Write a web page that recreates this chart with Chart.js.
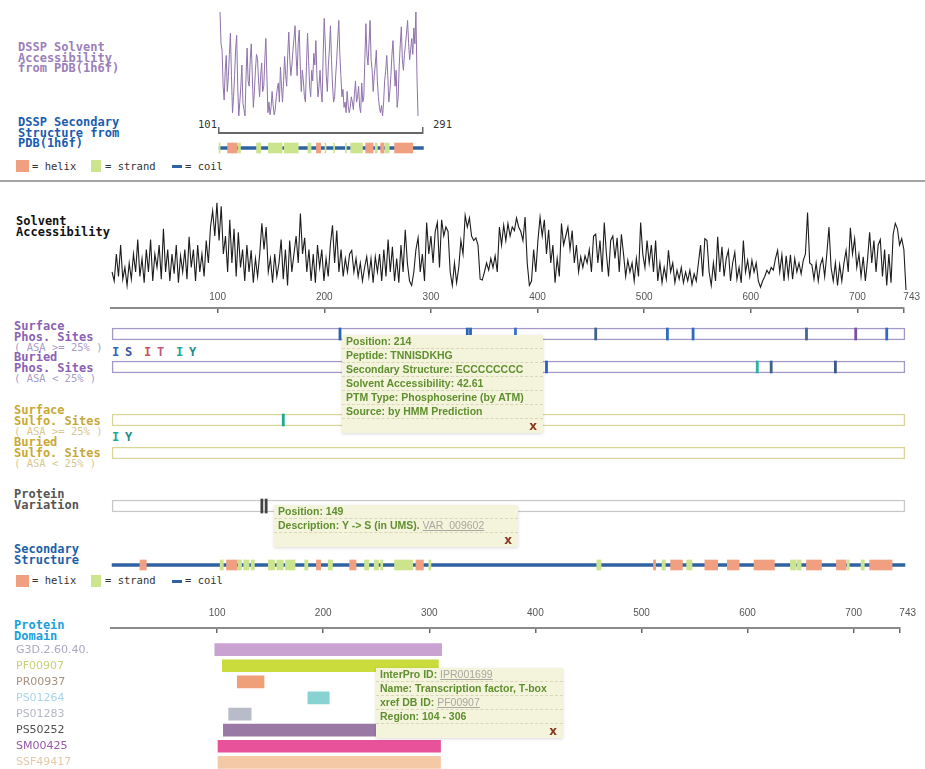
<!DOCTYPE html>
<html><head><meta charset="utf-8">
<script src="https://cdn.jsdelivr.net/npm/chart.js@4.4.1/dist/chart.umd.min.js"></script>
<style>
html,body{margin:0;padding:0;background:#fff;width:925px;height:769px;overflow:hidden;position:relative}
canvas{position:absolute;left:0}
.lbl{position:absolute;left:14px;font:bold 12px/10.5px "DejaVu Sans Mono",monospace;white-space:pre}
.asa{font-weight:normal;font-size:10.5px}
.leg{position:absolute;font:10.5px "DejaVu Sans Mono",monospace;color:#333;white-space:pre}
.sw{position:absolute}
.sym{position:absolute;font:bold 12px "DejaVu Sans Mono",monospace}
.num{position:absolute;font:10.5px "DejaVu Sans Mono",monospace;color:#333}
.sep{position:absolute;left:0;top:180px;width:925px;height:2px;background:#a3a3a3}
.tip{position:absolute;z-index:10;background:#f4f3dc;box-shadow:0 1px 3px rgba(0,0,0,.15);font:bold 10.5px "Liberation Sans",Arial,sans-serif;color:#5f8f2f}
.tl{height:13px;line-height:13px;border-bottom:1px dashed #d9d7b8;padding-left:4px;white-space:nowrap}
.tx{height:14px;line-height:14px;text-align:right;padding-right:6px;color:#8a3a20;font:bold 12px "DejaVu Sans",sans-serif}
.lk{color:#a8a8a0;font-weight:normal;text-decoration:underline}
</style></head><body>
<div class="sep"></div>

<div class="lbl" style="top:42px;left:18px;color:#9c80ba">DSSP Solvent
Accessibility
from PDB(1h6f)</div>
<div class="lbl" style="top:117px;left:18px;color:#1a5cb0">DSSP Secondary
Structure from
PDB(1h6f)</div>
<div class="num" style="left:198px;top:118px">101</div>
<div class="num" style="left:433px;top:118px">291</div>

<div class="sw" style="left:16px;top:160px;width:13px;height:12px;background:#f0a080"></div>
<div class="leg" style="left:32px;top:160px">= helix</div>
<div class="sw" style="left:91px;top:160px;width:10px;height:12px;background:#cde48f"></div>
<div class="leg" style="left:105px;top:160px">= strand</div>
<div class="sw" style="left:172px;top:165px;width:10px;height:3px;background:#2f62a0"></div>
<div class="leg" style="left:185px;top:160px">= coil</div>

<div class="lbl" style="top:216px;left:16px;color:#111">Solvent
Accessibility</div>

<div class="lbl" style="top:321px;color:#8a62b4">Surface
Phos. Sites
<span class="asa" style="color:#a99cc8">( ASA &gt;= 25% )</span></div>
<div class="lbl" style="top:352px;color:#8a62b4">Buried
Phos. Sites
<span class="asa" style="color:#a99cc8">( ASA &lt; 25% )</span></div>
<span class="sym" style="left:112px;top:345px;color:#2a68c0">I</span>
<span class="sym" style="left:125px;top:345px;color:#3a52a0">S</span>
<span class="sym" style="left:144px;top:345px;color:#d05060">I</span>
<span class="sym" style="left:157px;top:345px;color:#c05878">T</span>
<span class="sym" style="left:176px;top:345px;color:#20a8a0">I</span>
<span class="sym" style="left:189px;top:345px;color:#209088">Y</span>

<div class="lbl" style="top:405px;color:#c8a838">Surface
Sulfo. Sites
<span class="asa" style="color:#d6c88e">( ASA &gt;= 25% )</span></div>
<div class="lbl" style="top:437px;color:#c8a838">Buried
Sulfo. Sites
<span class="asa" style="color:#d6c88e">( ASA &lt; 25% )</span></div>
<span class="sym" style="left:112px;top:430px;color:#20a8a0">I</span>
<span class="sym" style="left:125px;top:430px;color:#209088">Y</span>

<div class="lbl" style="top:489px;color:#555">Protein
Variation</div>
<div class="lbl" style="top:544px;color:#1a5fa8">Secondary
Structure</div>
<div class="sw" style="left:16px;top:575px;width:13px;height:12px;background:#f0a080"></div>
<div class="leg" style="left:32px;top:574px">= helix</div>
<div class="sw" style="left:91px;top:575px;width:10px;height:12px;background:#cde48f"></div>
<div class="leg" style="left:105px;top:574px">= strand</div>
<div class="sw" style="left:172px;top:580px;width:10px;height:3px;background:#2f62a0"></div>
<div class="leg" style="left:185px;top:574px">= coil</div>

<div class="lbl" style="top:620px;color:#1ba0dc">Protein
Domain</div>

<div class="tip" style="left:342px;top:335px;width:201px">
<div class="tl">Position: 214</div>
<div class="tl">Peptide: TNNISDKHG</div>
<div class="tl">Secondary Structure: ECCCCCCCC</div>
<div class="tl">Solvent Accessibility: 42.61</div>
<div class="tl">PTM Type: Phosphoserine (by ATM)</div>
<div class="tl">Source: by HMM Prediction</div>
<div class="tx">x</div>
</div>
<div class="tip" style="left:274px;top:505px;width:244px">
<div class="tl">Position: 149</div>
<div class="tl">Description: Y -&gt; S (in UMS). <span class="lk">VAR_009602</span></div>
<div class="tx">x</div>
</div>
<div class="tip" style="left:376px;top:668px;width:187px">
<div class="tl">InterPro ID: <span class="lk">IPR001699</span></div>
<div class="tl">Name: Transcription factor, T-box</div>
<div class="tl">xref DB ID: <span class="lk">PF00907</span></div>
<div class="tl">Region: 104 - 306</div>
<div class="tx">x</div>
</div>

<script>
// ---------------- DATA ----------------
const seqLength = 743;
const axisTicks = [100, 200, 300, 400, 500, 600, 700, 743];

// Solvent accessibility (whole protein), residues 1,3,5,...,743
const accStart = 1, accStep = 2;
const accValues = [
  20,10,40,15,50,12,25,5,30,12,40,20,56,15,35,8,45,20,56,10,40,25,50,12,68,
  20,45,10,40,18,50,8,38,20,45,12,59,25,45,10,50,20,40,15,55,30,70,88,60,97,
  55,93,40,60,20,78,30,68,15,64,25,45,10,50,20,44,8,35,15,40,74,45,70,20,35,
  8,40,15,30,56,12,45,5,55,20,40,60,30,85,40,58,20,45,10,40,8,50,25,45,10,
  35,15,50,72,30,66,20,45,15,35,20,40,44,20,35,15,30,10,25,37,15,35,8,37,20,
  40,10,45,15,56,20,48,10,35,8,50,20,67,30,10,5,20,45,58,20,40,10,75,40,60,
  30,65,75,25,78,60,70,65,20,5,30,8,25,55,40,83,70,80,60,55,58,50,12,11,20,
  30,22,35,25,38,20,70,50,72,55,74,60,70,66,80,70,65,55,81,30,5,10,45,20,55,
  81,60,78,40,67,30,50,8,35,15,74,50,60,70,45,66,30,50,20,37,25,38,30,45,20,
  60,62,30,55,20,75,40,15,55,60,35,58,20,62,40,15,33,20,30,10,35,15,75,40,25,
  55,30,50,20,55,10,30,8,25,12,44,20,30,8,22,12,25,8,20,10,22,6,18,10,30,
  50,15,57,55,20,5,30,10,59,20,48,15,35,44,10,30,42,12,25,8,55,20,33,15,33,
  20,30,10,3,10,15,22,18,25,22,35,44,20,39,10,38,15,39,12,35,20,30,18,33,40,
  86,30,28,12,30,10,28,35,15,40,70,25,10,30,5,28,10,30,44,20,69,40,57,25,40,
  15,37,10,33,64,30,55,20,50,56,15,45,5,40,8,62,74,68,50,57,45,0
];

// DSSP solvent accessibility from PDB 1h6f, residues 101..291
const dsspRange = [101, 291];
const dsspStart = 101, dsspStep = 1;
const dsspValues = [
  100,70,64,30,17,45,59,25,39,60,80,40,5,20,40,65,78,30,2,15,
  30,50,14,8,2,40,66,35,30,55,70,40,10,25,45,60,56,35,20,40,
  52,25,30,55,75,40,5,15,3,10,25,12,3,8,20,28,33,15,48,30,
  15,35,58,40,30,60,81,55,40,50,64,75,87,60,40,70,83,50,25,45,
  35,20,15,50,80,55,30,20,45,35,61,50,73,40,20,30,45,25,15,60,
  94,70,40,25,50,65,87,55,30,15,20,40,55,75,92,60,40,20,27,10,
  15,5,25,12,5,10,20,15,8,22,35,15,20,30,10,5,33,15,20,55,
  89,60,50,70,92,55,45,25,40,50,64,35,20,10,5,12,2,15,35,45,
  59,40,15,25,40,60,73,50,30,45,10,20,50,70,86,55,45,60,70,80,
  92,70,55,65,75,60,85,70,100,40,2
];

// DSSP secondary structure (residue ranges)
const dsspHelix = [[109,118],[192,196],[238,245],[252,255],[265,282]];
const dsspStrand = [[101,102],[119,121],[136,140],[147,160],[162,175],[184,187],[200,201],[208,209],[219,220],[224,235],[247,249],[256,260]];

// Predicted secondary structure (residue ranges)
const ssHelix = [[27,33],[108,118],[192,196],[223,229],[285,292],[507,509],[523,534],[555,567],[576,587],[601,620],[650,664],[678,687],[709,730]];
const ssStrand = [[102,105],[119,122],[124,129],[131,134],[147,153],[155,161],[163,172],[181,184],[203,207],[237,241],[246,250],[252,254],[265,282],[297,299],[454,458],[515,518],[538,543],[635,640],[641,645],[688,690],[701,704]];

// PTM sites
const surfPhosSites = [214,333,336,378,453,520,544,650,696,725];
const surfPhosColors = ['#2b64b4','#2b64b4','#2b64b4','#3a70c8','#3d6486','#2e6cc0','#2e6cc0','#46688a','#7a50a0','#2e6cc0'];
const buriedPhosSites = [407,604,617,677];
const buriedPhosColors = ['#2e62b8','#2ab0a0','#3a6488','#3a5a86'];
const surfSulfoSites = [161];
const surfSulfoColors = ['#22a890'];
const buriedSulfoSites = [];
const variationSites = [141,145];

// Protein domains
const domainNames = ['G3D.2.60.40.','PF00907','PR00937','PS01264','PS01283','PS50252','SM00425','SSF49417'];
const domainRanges = [[97,309],[104,306],[118,143],[184,204],[110,131],[105,306],[100,308],[100,308]];
const domainColors = ['#c9a2d2','#c9dc3c','#f0a078','#88d2d4','#b8bcc8','#9a7aa4','#e8529a','#f4caa6'];
const domainLabelColors = ['#a8a8c4','#c8d078','#a89080','#a8d4e8','#b4b8c0','#505050','#9858a8','#e4c8a8'];

// ---------------- LAYOUT / DRAWING ----------------
const W = 925, PLOT_L = 111, PLOT_R = 906;
const PAD = {left: PLOT_L, right: W - PLOT_R, top: 0, bottom: 0};
const pxOf = r => PLOT_L + r * (PLOT_R - PLOT_L) / seqLength;

Chart.defaults.font.family = 'DejaVu Sans';
const base = {responsive:false, animation:false, events:[], plugins:{legend:{display:false}, tooltip:{enabled:false}}};

function addCanvas(top, height) {
  const c = document.createElement('canvas');
  c.width = W; c.height = height;
  c.style.top = top + 'px'; c.style.width = W + 'px'; c.style.height = height + 'px';
  document.body.appendChild(c);
  return c;
}

function lineChart(top, height, start, step, vals, color, width, xmin, xmax, pad) {
  new Chart(addCanvas(top, height), {
    type: 'line',
    data: {datasets: [{data: vals.map((v, i) => ({x: start + i * step, y: v})),
      borderColor: color, borderWidth: width, pointRadius: 0, tension: 0, clip: false}]},
    options: {...base, layout: {padding: pad},
      scales: {x: {type: 'linear', min: xmin, max: xmax, display: false},
               y: {min: 0, max: 100, display: false}}}
  });
}

function rangeSet(range, color, thick, extra) {
  return Object.assign({data: [range], backgroundColor: color, barThickness: thick,
    grouped: false, borderSkipped: false, borderWidth: 0}, extra || {});
}

function barTrack(top, height, datasets) {
  new Chart(addCanvas(top, height), {
    type: 'bar',
    data: {labels: ['row'], datasets},
    options: {...base, indexAxis: 'y', layout: {padding: PAD},
      scales: {x: {type: 'linear', min: 0, max: seqLength, display: false},
               y: {display: false}}}
  });
}

function ssTrack(top, helix, strand, coil) {
  const ds = [];
  helix.forEach(r => ds.push(rangeSet(r, '#f0a080', 10)));
  strand.forEach(r => ds.push(rangeSet(r, '#cde48f', 10)));
  ds.push(rangeSet(coil, '#2f62a0', 3));
  barTrack(top, 12, ds);
}

function siteTrack(top, sites, colors, boxColor, tickThick) {
  const ds = [];
  sites.forEach((s, i) => ds.push(rangeSet([s - 1, s + 1], colors[i] || colors[0], tickThick)));
  ds.push(rangeSet([1, seqLength - 1], '#ffffff', 12, {borderColor: boxColor, borderWidth: 1.5}));
  barTrack(top, 16, ds);
}

function axisChart(lineY, labelPad) {
  const AH = 24, TL = 5;
  new Chart(addCanvas(lineY - AH, AH + TL), {
    type: 'line',
    data: {datasets: [{data: []}]},
    options: {...base, layout: {padding: PAD},
      scales: {
        x: {type: 'linear', position: 'top', min: 0, max: seqLength,
          afterBuildTicks: s => { s.ticks = axisTicks.map(v => ({value: v})); },
          afterFit: s => { s.height = AH; },
          border: {display: true, color: '#8a8a8a', width: 2},
          grid: {drawOnChartArea: true, drawTicks: false, color: '#6a6a6a', lineWidth: 1.5},
          ticks: {padding: labelPad, color: '#555', autoSkip: false, maxRotation: 0,
            font: {size: 10, family: 'Liberation Sans'},
            callback: v => v === seqLength ? '\u2007\u2007\u2007' + v : String(v)}},
        y: {display: false}
      }}
  });
}

// DSSP accessibility plot
lineChart(12, 106, dsspStart, dsspStep, dsspValues, '#8e72aa', 1, dsspRange[0], dsspRange[1],
  {left: 220, right: W - 418, top: 0, bottom: 0});

// DSSP bracket
new Chart(addCanvas(127, 8), {
  type: 'line', data: {datasets: [{data: []}]},
  options: {...base, layout: {padding: {left: pxOf(dsspRange[0]), right: W - pxOf(dsspRange[1]), top: 0, bottom: 0}},
    scales: {x: {type: 'linear', position: 'bottom', min: dsspRange[0], max: dsspRange[1],
      afterBuildTicks: s => { s.ticks = dsspRange.map(v => ({value: v})); },
      afterFit: s => { s.height = 2; },
      ticks: {display: false},
      grid: {drawTicks: false, color: '#666', lineWidth: 1.5},
      border: {color: '#666', width: 2}},
      y: {display: false}}}
});

// DSSP secondary structure
ssTrack(142, dsspHelix, dsspStrand, [dsspRange[0], dsspRange[1] + 1]);

// Main solvent accessibility
lineChart(200, 90, accStart, accStep, accValues, '#1c1c1c', 1.1, 0, seqLength, PAD);
axisChart(308, 5);

// PTM site tracks
siteTrack(326, surfPhosSites, surfPhosColors, '#a498c8', 12);
siteTrack(359, buriedPhosSites, buriedPhosColors, '#a498c8', 12);
siteTrack(412, surfSulfoSites, surfSulfoColors, '#d8d49a', 12);
siteTrack(445, buriedSulfoSites, ['#22a890'], '#d8d49a', 12);
siteTrack(498, variationSites, ['#444444'], '#c8c8c8', 14);

// Predicted secondary structure
ssTrack(559, ssHelix, ssStrand, [1, seqLength - 1]);

// Domain axis and bars
axisChart(628, 9);
new Chart(addCanvas(635, 142), {
  type: 'bar',
  data: {labels: domainNames, datasets: [{data: domainRanges, backgroundColor: domainColors,
    barThickness: 12, borderSkipped: false, borderWidth: 0}]},
  options: {...base, indexAxis: 'y', layout: {padding: {left: 16, right: W - PLOT_R, top: 0, bottom: 0}},
    scales: {
      x: {type: 'linear', min: 0, max: seqLength, display: false},
      y: {position: 'left', grid: {display: false}, border: {display: false},
        afterFit: s => { s.width = PLOT_L - 16; },
        ticks: {crossAlign: 'far', padding: 0, autoSkip: false, color: c => domainLabelColors[c.index],
          font: {size: 11, family: 'DejaVu Sans'}}}
    }}
});
</script>
</body></html>
